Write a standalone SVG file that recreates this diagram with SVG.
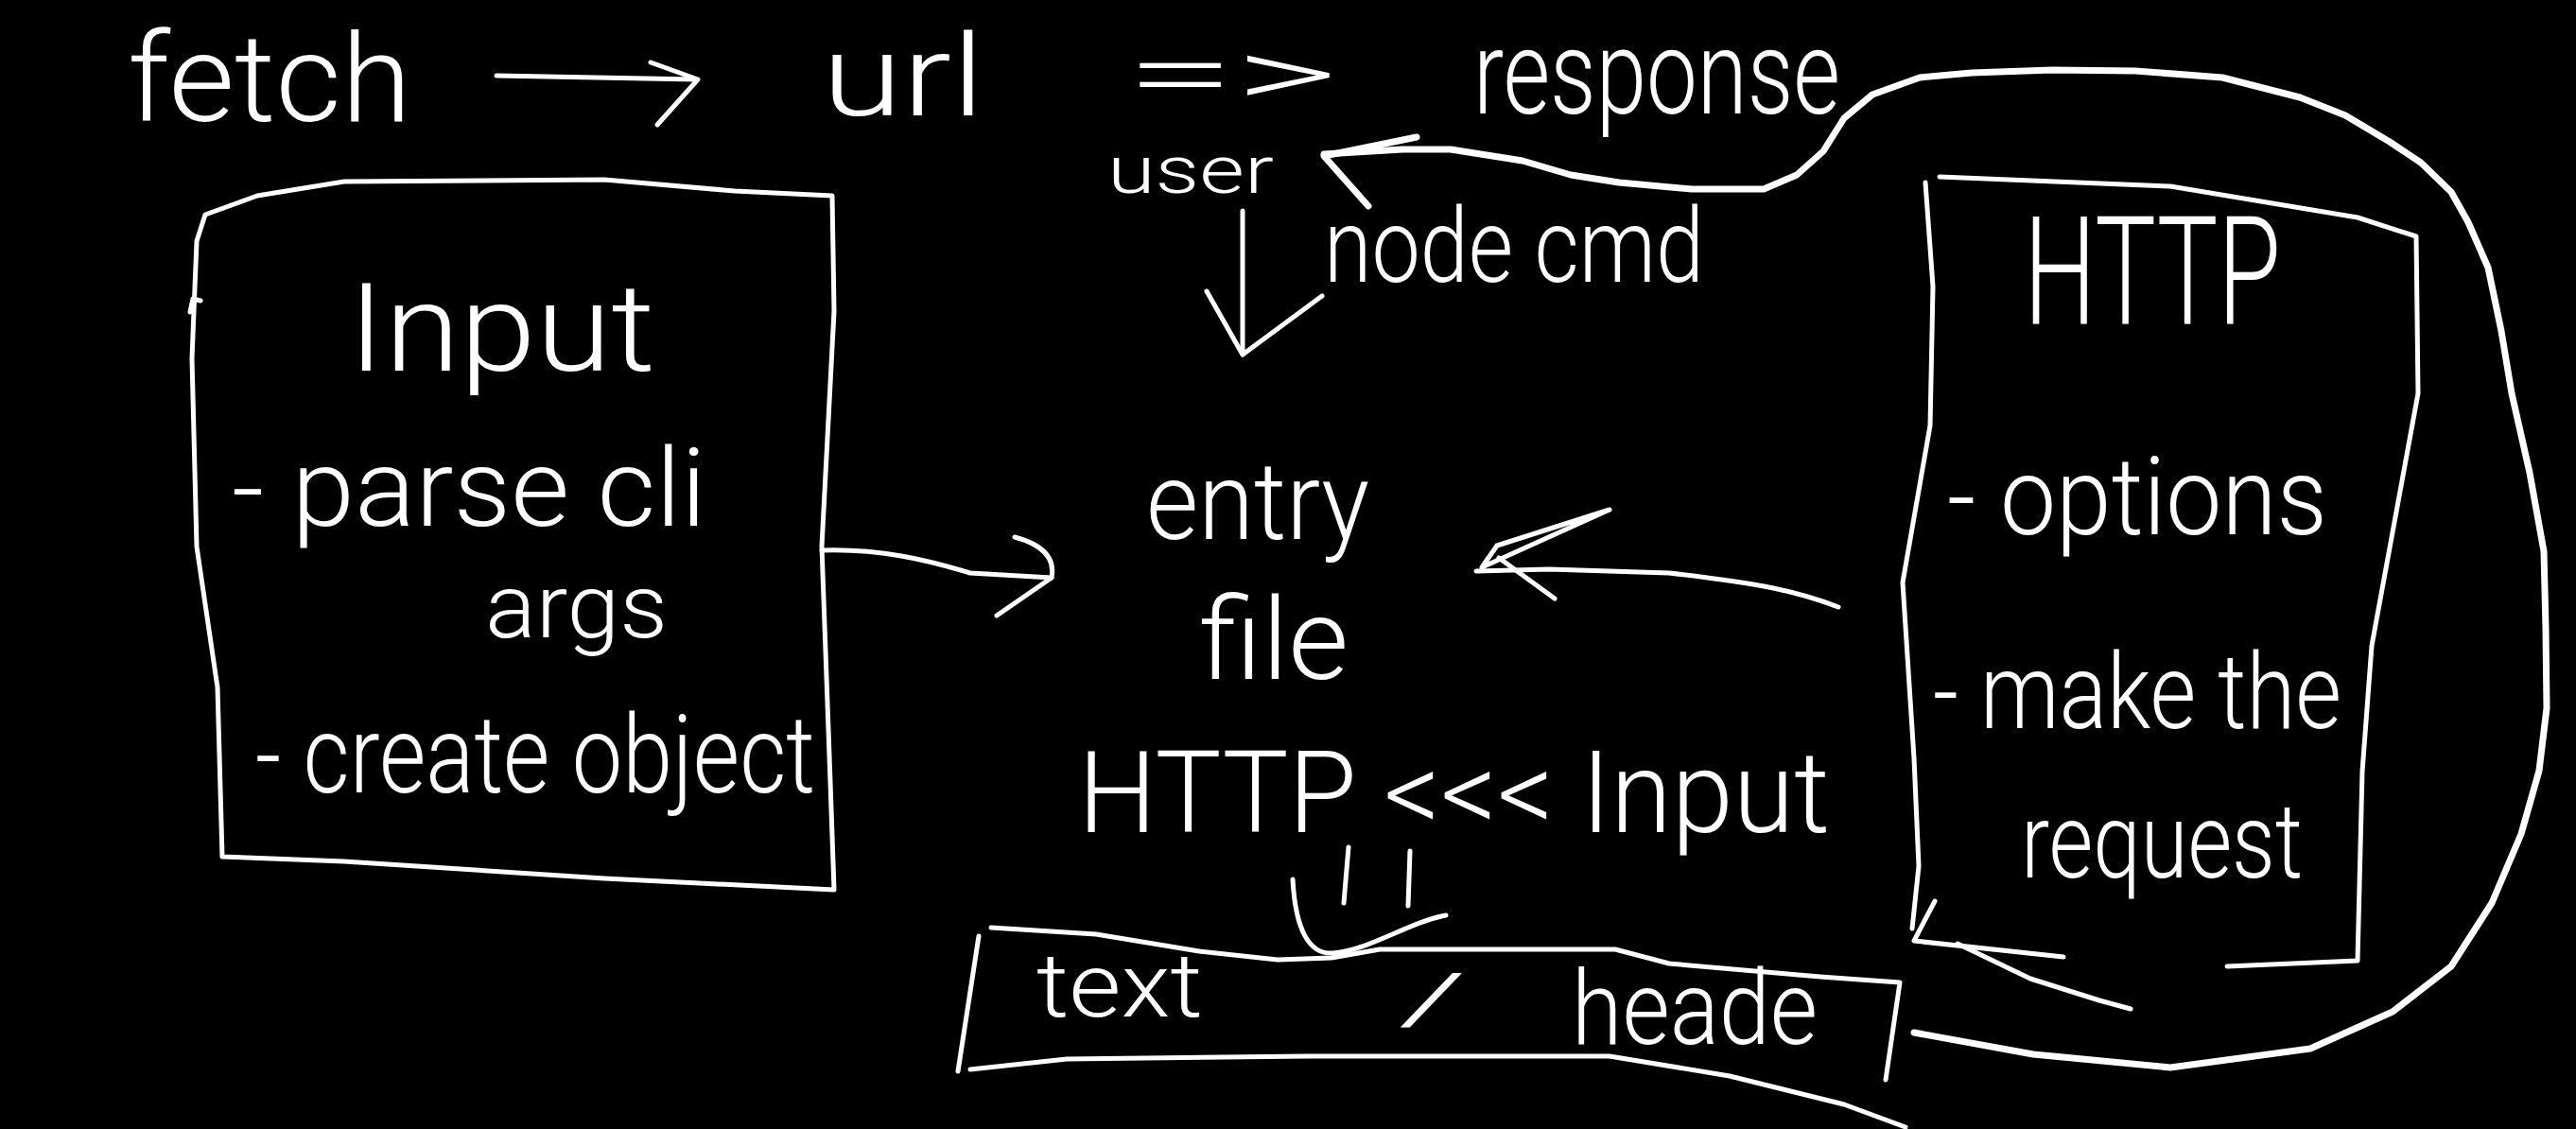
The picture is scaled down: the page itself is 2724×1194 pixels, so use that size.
<svg xmlns="http://www.w3.org/2000/svg" width="2724" height="1194" viewBox="0 0 2724 1194">
<style>
  .ink { fill: none; stroke: #ffffff; stroke-width: 5; stroke-linecap: round; stroke-linejoin: round; }
  .thick { stroke-width: 7; }
  .t { fill: #ffffff; font-family: Roboto, "Liberation Sans", "DejaVu Sans", sans-serif; font-weight: 300; }
</style>
<rect x="0" y="0" width="2724" height="1194" fill="#000000"/>

<g id="title">
  <text class="t" x="135" y="128" font-size="130" textLength="300" lengthAdjust="spacingAndGlyphs">fetch</text>
  <text class="t" x="869" y="122" font-size="120" textLength="172" lengthAdjust="spacingAndGlyphs">url</text>
  <text class="t" x="1190" y="112" font-size="100" textLength="225" lengthAdjust="spacingAndGlyphs">=&gt;</text>
  <text class="t" x="1558" y="120" font-size="125" textLength="388" lengthAdjust="spacingAndGlyphs">response</text>
</g>

<g id="user-label">
  <text class="t" x="1171" y="204" font-size="70" textLength="176" lengthAdjust="spacingAndGlyphs">user</text>
</g>

<g id="node-cmd-label">
  <text class="t" x="1400" y="298" font-size="110" textLength="402" lengthAdjust="spacingAndGlyphs">node cmd</text>
</g>

<g id="input-node">
  <path class="ink" d="M 217 227 L 272 207 L 364 192 L 639 190 L 777 202 L 880 207 L 882 329 L 869 578 L 878 827 L 882 941 L 639 929 L 364 911 L 235 906 L 230 727 L 208 578 L 203 379 L 208 255 Z"/>
  <path class="ink" d="M 201 330 L 204 316 L 212 318"/>
  <text class="t" x="368" y="392" font-size="130" textLength="325" lengthAdjust="spacingAndGlyphs">Input</text>
  <text class="t" x="245" y="556" font-size="115" textLength="502" lengthAdjust="spacingAndGlyphs">- parse cli</text>
  <text class="t" x="513" y="674" font-size="95" textLength="193" lengthAdjust="spacingAndGlyphs">args</text>
  <text class="t" x="270" y="838" font-size="115" textLength="592" lengthAdjust="spacingAndGlyphs">- create object</text>
</g>

<g id="entry-node">
  <text class="t" x="1212" y="570" font-size="115" textLength="236" lengthAdjust="spacingAndGlyphs">entry</text>
  <text class="t" x="1268" y="718" font-size="120" textLength="158" lengthAdjust="spacingAndGlyphs">file</text>
  <text class="t" x="1140" y="880" font-size="120" textLength="795" lengthAdjust="spacingAndGlyphs">HTTP &lt;&lt;&lt; Input</text>
  <path class="ink" d="M 1426 896 L 1421 955 M 1491 900 L 1489 958"/>
  <path class="ink" d="M 1367 930 C 1370 985, 1385 1010, 1410 1008 C 1450 1004, 1490 975, 1529 968"/>
</g>

<g id="text-header-node">
  <path class="ink" d="M 1048 981 L 1159 988 L 1268 1006 L 1351 1015 L 1408 1013 L 1459 1004 L 1708 1004 L 1765 1019 L 1925 1033 L 2009 1039 L 1994 1142"/>
  <path class="ink" d="M 1035 990 L 1013 1133"/>
  <path class="ink" d="M 1026 1131 L 1128 1120 L 1383 1117 L 1702 1117 L 1829 1138 L 1950 1168 L 2015 1192"/>
  <text class="t" x="1096" y="1075" font-size="95" textLength="176" lengthAdjust="spacingAndGlyphs">text</text>
  <text class="t" x="1478" y="1082" font-size="75" textLength="74" lengthAdjust="spacingAndGlyphs">/</text>
  <text class="t" x="1662" y="1104" font-size="110" textLength="260" lengthAdjust="spacingAndGlyphs">heade</text>
</g>

<g id="http-node">
  <path class="ink" d="M 2051 187 L 2295 197 L 2493 230 L 2555 250 L 2557 416 L 2508 683 L 2498 816 L 2493 1016 L 2355 1022"/>
  <path class="ink" d="M 2036 193 L 2044 303 L 2041 450 L 2012 616 L 2024 802 L 2029 916 L 2022 982"/>
  <path class="ink" d="M 2046 953 L 2024 995 L 2182 1012"/>
  <path class="ink" d="M 2070 998 L 2147 1035 L 2220 1058 L 2253 1067"/>
  <text class="t" x="2140" y="342" font-size="160" textLength="272" lengthAdjust="spacingAndGlyphs">HTTP</text>
  <text class="t" x="2059" y="565" font-size="115" textLength="402" lengthAdjust="spacingAndGlyphs">- options</text>
  <text class="t" x="2044" y="770" font-size="112" textLength="432" lengthAdjust="spacingAndGlyphs">- make the</text>
  <text class="t" x="2137" y="928" font-size="112" textLength="298" lengthAdjust="spacingAndGlyphs">request</text>
</g>

<g id="connectors">
  <!-- fetch -> url -->
  <path class="ink" d="M 525 80 L 735 84"/>
  <path class="ink" d="M 688 66 L 738 84 L 695 132"/>
  <!-- Input -> entry -->
  <path class="ink" d="M 869 582 C 930 580, 980 592, 1026 606 L 1112 611"/>
  <path class="ink" d="M 1073 568 Q 1118 580 1112 611 L 1054 651"/>
  <!-- HTTP -> entry -->
  <path class="ink" d="M 1944 642 C 1900 625, 1861 617, 1765 606 L 1638 602 L 1561 604"/>
  <path class="ink" d="M 1702 539 L 1583 577 L 1567 600 L 1702 539"/>
  <path class="ink" d="M 1585 590 L 1644 633"/>
  <!-- user -> entry -->
  <path class="ink" d="M 1314 223 L 1314 375"/>
  <path class="ink" d="M 1276 308 L 1314 375 L 1398 313"/>
  <!-- loop from header box around HTTP back to user -->
  <path class="ink thick" d="M 2024 1092 L 2150 1115 L 2295 1129 L 2443 1109 L 2530 1070 L 2592 1022 L 2635 955 L 2666 882 L 2685 815 L 2693 749 L 2692 665 L 2690 583 L 2675 500 L 2656 416 L 2645 350 L 2631 283 L 2610 235 L 2592 203 L 2560 172 L 2527 150 L 2480 122 L 2432 103 L 2350 82 L 2258 75 L 2170 74 L 2085 77 L 2030 82 L 1980 100 L 1950 125 L 1928 160 L 1900 185 L 1865 200 L 1789 200 L 1712 193 L 1661 185 L 1610 170 L 1534 158 L 1483 158 L 1400 163"/>
  <path class="ink thick" d="M 1498 145 L 1400 165 L 1447 218"/>
</g>
</svg>
